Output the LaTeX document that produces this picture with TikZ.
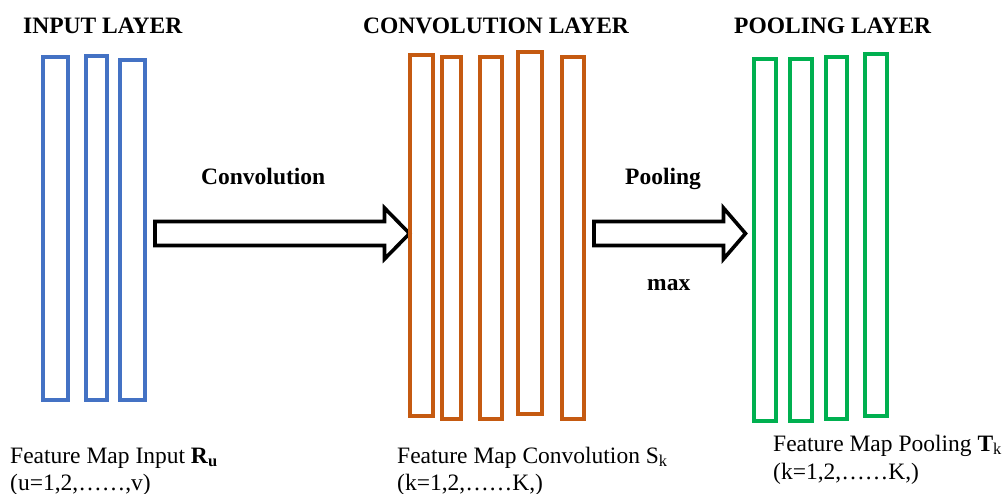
\documentclass[tikz,border=0pt]{standalone}
\usepackage{fontspec}
\setmainfont{Liberation Serif}
\definecolor{inputblue}{RGB}{68,114,196}
\definecolor{convorange}{RGB}{197,90,17}
\definecolor{poolgreen}{RGB}{0,176,80}
\pgfdeclarelayer{nodelayer}
\pgfdeclarelayer{edgelayer}
\pgfsetlayers{edgelayer,nodelayer,main}
\tikzstyle{input map}=[draw=inputblue, shape=rectangle, line width=4.2pt, inner sep=0]
\tikzstyle{conv map}=[draw=convorange, shape=rectangle, line width=4.2pt, inner sep=0]
\tikzstyle{pool map}=[draw=poolgreen, shape=rectangle, line width=4.2pt, inner sep=0]
\tikzstyle{layer title}=[anchor=base west, inner sep=0, font=\fontsize{23.5}{28}\selectfont\bfseries]
\tikzstyle{map label}=[anchor=base west, inner sep=0, font=\fontsize{23.5}{28}\selectfont]
\tikzstyle{block arrow}=[draw=black, fill=white, line width=3.6pt, line join=miter]

\begin{document}
\begin{tikzpicture}[x=1pt, y=-1pt]
	\useasboundingbox (0, 0) rectangle (1008, 494);
	\begin{pgfonlayer}{nodelayer}
		% input feature maps
		\node [style=input map, minimum width=24.8, minimum height=342.8] (0) at (55.5, 228.5) {};
		\node [style=input map, minimum width=20.8, minimum height=343.8] (1) at (96.5, 228) {};
		\node [style=input map, minimum width=24.8, minimum height=339.8] (2) at (132.5, 230) {};
		% convolution feature maps
		\node [style=conv map, minimum width=22.8, minimum height=360.8] (3) at (421.5, 235.5) {};
		\node [style=conv map, minimum width=18.8, minimum height=361.8] (4) at (451.5, 238) {};
		\node [style=conv map, minimum width=21.8, minimum height=361.8] (5) at (491, 238) {};
		\node [style=conv map, minimum width=23.8, minimum height=361.8] (6) at (530, 233) {};
		\node [style=conv map, minimum width=21.8, minimum height=361.8] (7) at (573, 238) {};
		% pooling feature maps
		\node [style=pool map, minimum width=21.8, minimum height=361.8] (8) at (765, 240) {};
		\node [style=pool map, minimum width=21.8, minimum height=361.8] (9) at (801, 240) {};
		\node [style=pool map, minimum width=20.8, minimum height=361.8] (10) at (836.5, 238) {};
		\node [style=pool map, minimum width=21.8, minimum height=361.8] (11) at (876, 235) {};
		% titles
		\node [style=layer title] (12) at (23, 34) {INPUT LAYER};
		\node [style=layer title] (13) at (363, 34) {CONVOLUTION LAYER};
		\node [style=layer title] (14) at (734, 34) {POOLING LAYER};
		\node [style=layer title] (15) at (201, 185) {Convolution};
		\node [style=layer title] (16) at (625, 185) {Pooling};
		\node [style=layer title] (17) at (647, 290) {max};
		% labels under the maps
		\node [style=map label] (18) at (10, 463) {Feature Map Input \textbf{R}\textsubscript{\textbf{u}}};
		\node [style=map label] (19) at (10, 490) {(u=1,2,……,v)};
		\node [style=map label] (20) at (397, 463) {Feature Map Convolution S\textsubscript{k}};
		\node [style=map label] (21) at (397, 490) {(k=1,2,……K,)};
		\node [style=map label] (22) at (773, 451) {Feature Map Pooling \textbf{T}\textsubscript{k}};
		\node [style=map label] (23) at (773, 479) {(k=1,2,……K,)};
	\end{pgfonlayer}
	\begin{pgfonlayer}{edgelayer}
		\draw [style=block arrow] (155, 221.5) -- (384.5, 221.5) -- (384.5, 208) -- (409.5, 233.5)
			-- (384.5, 259) -- (384.5, 245.5) -- (155, 245.5) -- cycle;
		\draw [style=block arrow] (594, 221.5) -- (723.5, 221.5) -- (723.5, 208) -- (745.5, 233.5)
			-- (723.5, 259) -- (723.5, 245.5) -- (594, 245.5) -- cycle;
	\end{pgfonlayer}
\end{tikzpicture}
\end{document}
